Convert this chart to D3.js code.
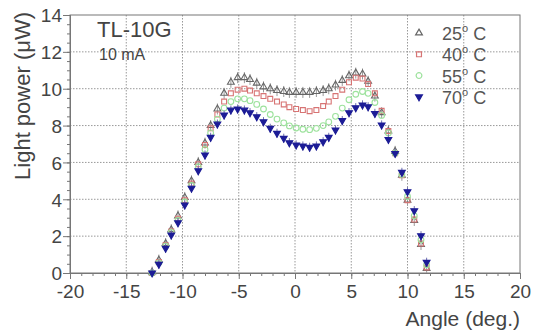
<!DOCTYPE html>
<html><head><meta charset="utf-8">
<script src="https://cdn.jsdelivr.net/npm/d3@7"></script>
<style>body{margin:0;background:#fff}svg{display:block;font-family:"Liberation Sans",Arial,sans-serif}</style>
</head><body>
<svg id="c" width="535" height="332"></svg>
<script>
const angles = [-12.7,-12.1,-11.5,-11.0,-10.4,-9.8,-9.2,-8.6,-8.0,-7.5,-6.9,-6.3,-5.7,-5.1,-4.5,-4.0,-3.4,-2.8,-2.2,-1.6,-1.0,-0.5,0.1,0.7,1.3,1.9,2.5,3.0,3.6,4.2,4.8,5.4,6.0,6.5,7.1,7.7,8.3,8.9,9.5,10.0,10.6,11.2,11.7];
const p25 = [0.05,0.7,1.6,2.35,3.1,4.1,5.0,6.0,7.05,8.0,8.9,9.75,10.35,10.6,10.6,10.5,10.3,10.1,10.0,9.9,9.85,9.8,9.8,9.8,9.8,9.85,9.9,10.0,10.2,10.45,10.7,10.85,10.8,10.4,9.6,8.7,7.7,6.6,5.3,3.95,2.85,1.55,0.25];
const p40 = [0.0,0.6,1.5,2.25,2.95,3.95,4.85,5.9,6.95,7.85,8.6,9.3,9.75,9.95,10.0,9.9,9.75,9.6,9.45,9.3,9.15,9.0,8.9,8.84,8.78,8.84,9.06,9.3,9.6,9.95,10.35,10.6,10.55,10.25,9.75,8.8,7.7,6.5,5.3,3.95,2.9,1.6,0.3];
const p55 = [0.0,0.55,1.45,2.2,2.85,3.85,4.75,5.75,6.7,7.6,8.35,8.95,9.3,9.45,9.45,9.35,9.15,8.9,8.6,8.35,8.15,7.98,7.87,7.8,7.78,7.85,8.0,8.2,8.5,8.95,9.4,9.7,9.85,9.75,9.25,8.55,7.6,6.5,5.35,4.15,3.1,1.8,0.45];
const p70 = [0.0,0.47,1.34,2.06,2.73,3.69,4.6,5.55,6.4,7.36,8.08,8.57,8.84,8.9,8.84,8.7,8.48,8.21,7.85,7.58,7.31,7.07,6.95,6.89,6.82,6.89,7.12,7.36,7.76,8.27,8.7,8.97,9.12,9.02,8.66,8.03,7.25,6.49,5.46,4.41,3.38,2.02,0.58];
const seriesNames = ["25\u00B0 C","40\u00B0 C","55\u00B0 C","70\u00B0 C"];
const xTicks = [-20,-15,-10,-5,0,5,10,15,20];
const yTicks = [0,2,4,6,8,10,12,14];

const svg = d3.select("#c");
const L=70,R=520,T=15,B=273;
const x = d3.scaleLinear().domain([-20,20]).range([L,R]);
const y = d3.scaleLinear().domain([0,14]).range([B,T]);

// grid
const g = svg.append("g");
g.selectAll(".gx").data(xTicks.slice(1,-1)).enter().append("line")
 .attr("x1",d=>x(d)).attr("x2",d=>x(d)).attr("y1",T).attr("y2",B)
 .attr("stroke","#999").attr("stroke-width",1).attr("stroke-dasharray","1.5,1.5");
g.selectAll(".gy").data(yTicks.slice(1,-1)).enter().append("line")
 .attr("y1",d=>y(d)).attr("y2",d=>y(d)).attr("x1",L).attr("x2",R)
 .attr("stroke","#999").attr("stroke-width",1).attr("stroke-dasharray","1.5,1.5");

// axes
const xa = svg.append("g").attr("transform",`translate(0,${B})`)
 .call(d3.axisBottom(x).tickValues(d3.range(-20,21,1)).tickSize(3).tickFormat(""));
const xa2 = svg.append("g").attr("transform",`translate(0,${B})`)
 .call(d3.axisBottom(x).tickValues(xTicks).tickSize(6).tickPadding(3).tickFormat(d=>String(d)));
const ya = svg.append("g").attr("transform",`translate(${L},0)`)
 .call(d3.axisLeft(y).tickValues(d3.range(0,14.01,0.5)).tickSize(3).tickFormat(""));
const ya2 = svg.append("g").attr("transform",`translate(${L},0)`)
 .call(d3.axisLeft(y).tickValues(yTicks).tickSize(7).tickPadding(1).tickFormat(d=>String(d)));
[xa,xa2,ya,ya2].forEach(a=>{a.selectAll("path").attr("stroke","#777");a.selectAll("line").attr("stroke","#777");
 a.selectAll("text").attr("fill","#444").style("font-size","19px").style("font-family","Liberation Sans, Arial, sans-serif");});
xa2.selectAll("text").attr("dy","0.85em");
ya2.selectAll("text").attr("dy","0.36em");
svg.append("rect").attr("x",L).attr("y",T).attr("width",R-L).attr("height",B-T)
 .attr("fill","none").attr("stroke","#777").attr("stroke-width",1);

// data
const sym = d3.symbol().type(d3.symbolTriangle).size(20);
const sq = d3.symbol().type(d3.symbolSquare).size(24);
const circ = d3.symbol().type(d3.symbolCircle).size(26);
const defs = [
 {vals:p25, path:sym(), fill:"none", stroke:"#666", rot:0, err:0.3, ec:"#999"},
 {vals:p40, path:sq(), fill:"none", stroke:"#d77474", rot:0, err:0, ec:"#d77474"},
 {vals:p55, path:circ(), fill:"none", stroke:"#9de29d", rot:0, err:0, ec:"#9de29d"},
 {vals:p70, path:sym(), fill:"#1c1c96", stroke:"#1c1c96", rot:180, err:0.25, ec:"#7070b0"}
];
defs.forEach(s=>{
 const gg = svg.append("g");
 const pts = angles.map((a,i)=>({a,v:s.vals[i]}));
 if(s.err>0){
  gg.selectAll("line").data(pts).enter().append("line")
   .attr("x1",d=>x(d.a)).attr("x2",d=>x(d.a))
   .attr("y1",d=>y(Math.max(0,d.v-s.err))).attr("y2",d=>y(d.v+s.err))
   .attr("stroke",s.ec).attr("stroke-width",1);
 }
 gg.selectAll("path").data(pts).enter().append("path")
  .attr("d",s.path).attr("transform",d=>`translate(${x(d.a)},${y(d.v)}) rotate(${s.rot})`)
  .attr("fill",s.fill).attr("stroke",s.stroke).attr("stroke-width",1.1);
});

// legend
const lg = svg.append("g");
seriesNames.forEach((n,i)=>{
 const yy = 33 + i*21.3, s = defs[i];
 lg.append("path").attr("d",s.path).attr("transform",`translate(419,${yy}) rotate(${s.rot})`)
  .attr("fill",s.fill).attr("stroke",s.stroke).attr("stroke-width",1.2);
 const t = lg.append("text").attr("x",442).attr("y",yy+7).attr("fill","#555").style("font-size","18px");
 const num = n.split("\u00B0")[0];
 t.append("tspan").text(num);
 t.append("tspan").text("o").style("font-size","11px").attr("dy","-8");
 t.append("tspan").text(" C").attr("dy","8");
});

// annotations
svg.append("text").attr("x",97).attr("y",37).attr("fill","#444").style("font-size","22px").text("TL-10G");
svg.append("text").attr("x",99).attr("y",60).attr("fill","#444").style("font-size","16px").text("10 mA");
svg.append("text").attr("x",520).attr("y",326).attr("text-anchor","end").attr("fill","#444").style("font-size","21px").text("Angle (deg.)");
svg.append("text").attr("transform","translate(30,12) rotate(-90)").attr("text-anchor","end").attr("fill","#444").style("font-size","22px").text("Light power (\u03BCW)");
</script>
</body></html>
